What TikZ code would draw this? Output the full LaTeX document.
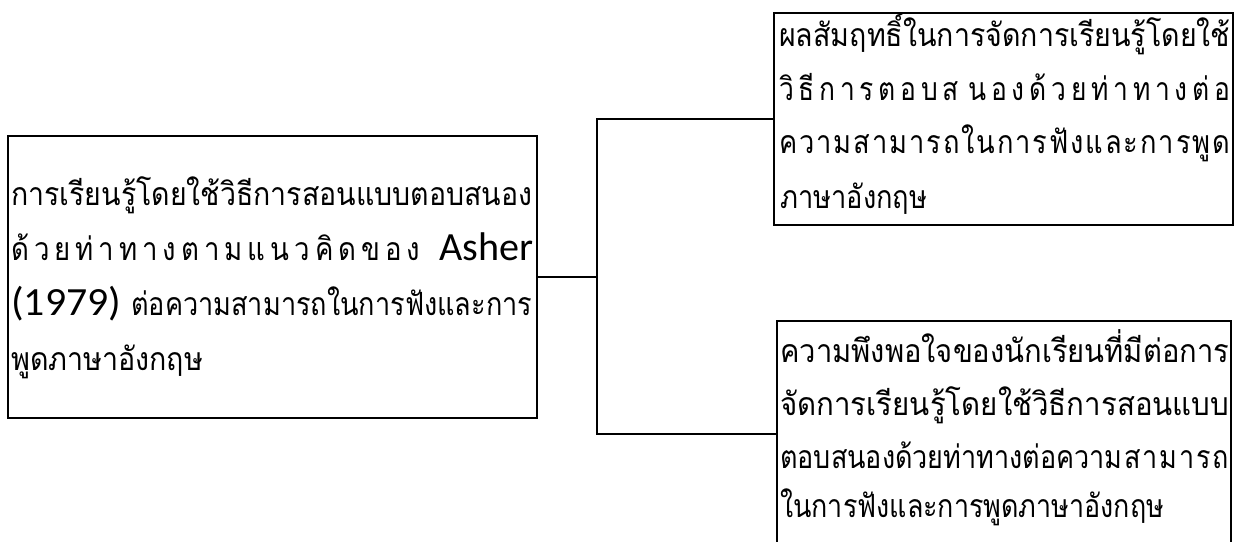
\documentclass[tikz,border=0pt]{standalone}
\usepackage{fontspec}
\usepackage{graphicx}
\newfontfamily\thai[Script=Thai]{Loma}
\newfontfamily\lat{Carlito}
\newcommand\fitw[2]{\resizebox{#1pt}{\height}{#2}}
\newcommand\gs{\hspace{0.18em}}
\newcommand\gt{\hspace{0.07em}}
\begin{document}
\begin{tikzpicture}[x=1pt,y=-1pt,
  box/.style={draw, line width=2.5pt, inner sep=0pt, anchor=center},
  ln/.style={anchor=base west, inner sep=0pt, font=\thai\fontsize{32}{32}\selectfont},
  la/.style={anchor=base west, inner sep=0pt, font=\lat\fontsize{40}{40}\selectfont},
  wire/.style={line width=2.5pt}]
\useasboundingbox (0,0) rectangle (1247,541);
\clip (0,0) rectangle (1247,541);
\fill[white] (0,0) rectangle (1247,541);
% boxes
\node[box, minimum width=529pt, minimum height=282pt] (L) at (272.5,277) {};
\node[box, minimum width=459pt, minimum height=212pt] (T) at (1003.5,119) {};
\node[box, minimum width=454pt, minimum height=226pt] (B) at (1004,434) {};
% connectors
\coordinate (J) at (597,277);
\draw[wire] (L.east) -- (J);
\draw[wire] (T.west) -| (J) |- (B.west);
% left text
\node[ln] (l1) at (11,205) {\fitw{521}{การเรียนรู้โดยใช้วิธีการสอนแบบตอบสนอง}};
\node[ln] (l2) at (11,260) {\fitw{409}{ด้\gs ว\gs ย\gs ท่\gs า\gs ท\gs า\gs ง\gs ต\gs า\gs ม\gs แ\gs น\gs ว\gs คิ\gs ด\gs ข\gs อ\gs ง}};
\node[la] (l2b) at (439,260) {\fitw{94}{Asher}};
\node[la] (l3a) at (11,315) {\fitw{110}{(1979)}};
\node[ln] (l3b) at (131,315) {\fitw{401}{ต่อความสามารถในการฟังและการ}};
\node[ln] (l4) at (11,370) {\fitw{192}{พูดภาษาอังกฤษ}};
% top right text
\node[ln] (t1) at (779,46) {\fitw{451}{ผลสัมฤทธิ์ในการจัดการเรียนรู้โดยใช้}};
\node[ln] (t2) at (779,100) {\fitw{451}{วิ\gs ธี\gs ก\gs า\gs ร\gs ต\gs อ\gs บ\gs ส\gs\gs น\gs อ\gs ง\gs ด้\gs ว\gs ย\gs ท่\gs า\gs ท\gs า\gs ง\gs ต่\gs อ}};
\node[ln] (t3) at (779,153) {\fitw{451}{ค\gt ว\gt า\gt ม\gt ส\gt า\gt ม\gt า\gt ร\gt ถ\gt ใ\gt น\gt ก\gt า\gt ร\gt ฟั\gt ง\gt แ\gt ล\gt ะ\gt ก\gt า\gt ร\gt พู\gt ด}};
\node[ln] (t4) at (780,208) {\fitw{147}{ภาษาอังกฤษ}};
% bottom right text
\node[ln] (b1) at (780,362) {\fitw{449}{ความพึงพอใจของนักเรียนที่มีต่อการ}};
\node[ln] (b2) at (780,415) {\fitw{449}{จัดการเรียนรู้โดยใช้วิธีการสอนแบบ}};
\node[ln] (b3) at (780,468) {\fitw{449}{ตอบสนองด้วยท่าทางต่อความ\gt ส\gt า\gt ม\gt า\gt ร\gt ถ}};
\node[ln] (b4) at (780,517) {\fitw{384}{ในการฟังและการพูดภาษาอังกฤษ}};
\end{tikzpicture}
\end{document}
